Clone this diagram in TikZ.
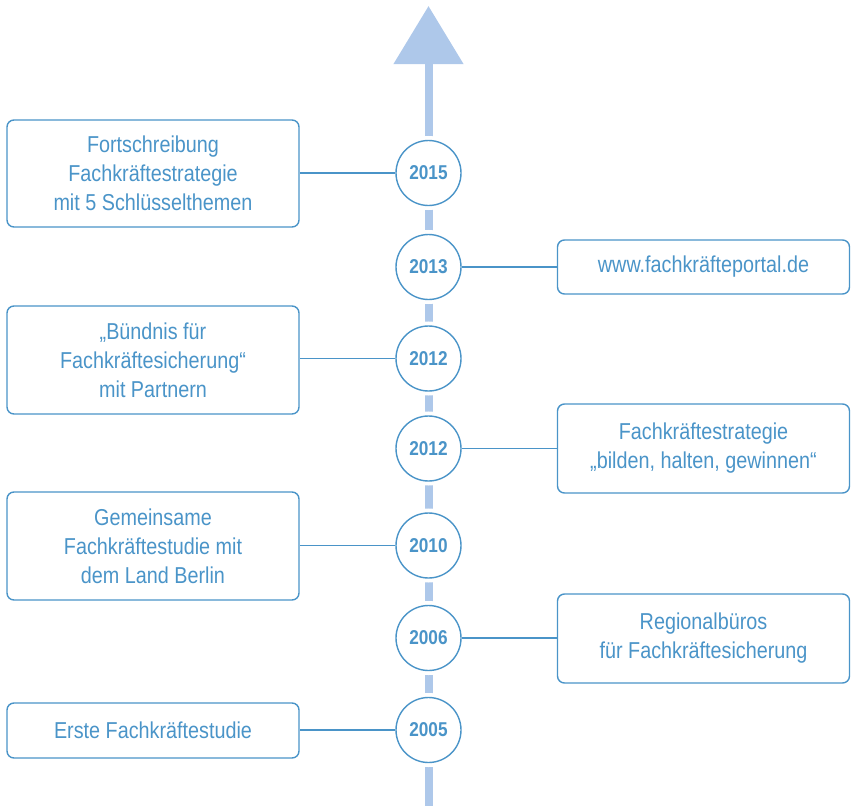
\documentclass[tikz,border=0pt]{standalone}
\usepackage{fontspec}
\setmainfont{Liberation Sans}[FakeStretch=0.86]
\usetikzlibrary{arrows.meta}
\definecolor{tlblue}{RGB}{74,148,200}
\definecolor{axisblue}{RGB}{174,200,234}
\begin{document}
\begin{tikzpicture}[x=1pt,y=-1pt,
    year/.style={circle, draw=tlblue, line width=1.4pt, fill=white, minimum size=65pt, inner sep=0pt,
      text=tlblue, font=\bfseries\fontsize{20}{20}\selectfont, preaction={draw=white, line width=9pt}},
    event/.style={draw=tlblue, line width=1.4pt, rounded corners=7pt, minimum width=292pt, inner sep=0pt,
      text=tlblue, align=center, font=\fontsize{23}{29}\selectfont},
    link/.style={draw=tlblue, line width=1.3pt}]
    \useasboundingbox (0,0) rectangle (852,806);
    % time axis
    \coordinate (axisbot) at (428.5,806);
    \coordinate (axistop) at (428.5,6);
    \draw[axisblue, line width=8pt, -{Triangle[width=68pt,length=58pt]}] (axisbot) -- (axistop);
    % years
    \node[year] (y2015) at (428.5,173) {2015};
    \node[year] (y2013) at (428.5,267) {2013};
    \node[year] (y2012a) at (428.5,358.5) {2012};
    \node[year] (y2012b) at (428.5,448.5) {2012};
    \node[year] (y2010) at (428.5,545.5) {2010};
    \node[year] (y2006) at (428.5,638) {2006};
    \node[year] (y2005) at (428.5,730) {2005};
    % events
    \node[event, minimum height=107pt] (e2015) at (153,173.5) {Fortschreibung\\Fachkräftestrategie\\mit 5 Schlüsselthemen};
    \node[event, minimum height=54pt] (e2013) at (703.5,267) {www.fachkräfteportal.de};
    \node[event, minimum height=108pt] (e2012a) at (153,360) {„Bündnis für\\Fachkräftesicherung“\\mit Partnern};
    \node[event, minimum height=89pt] (e2012b) at (703.5,448.5) {Fachkräftestrategie\\„bilden, halten, gewinnen“};
    \node[event, minimum height=108pt] (e2010) at (153,546) {Gemeinsame\\Fachkräftestudie mit\\dem Land Berlin};
    \node[event, minimum height=89pt] (e2006) at (703.5,638.5) {Regionalbüros\\für Fachkräftesicherung};
    \node[event, minimum height=55pt] (e2005) at (153,730.5) {Erste Fachkräftestudie};
    % links
    \draw[link] (y2015) -- (y2015 -| e2015.east);
    \draw[link] (y2013) -- (y2013 -| e2013.west);
    \draw[link] (y2012a) -- (y2012a -| e2012a.east);
    \draw[link] (y2012b) -- (y2012b -| e2012b.west);
    \draw[link] (y2010) -- (y2010 -| e2010.east);
    \draw[link] (y2006) -- (y2006 -| e2006.west);
    \draw[link] (y2005) -- (y2005 -| e2005.east);
\end{tikzpicture}
\end{document}
